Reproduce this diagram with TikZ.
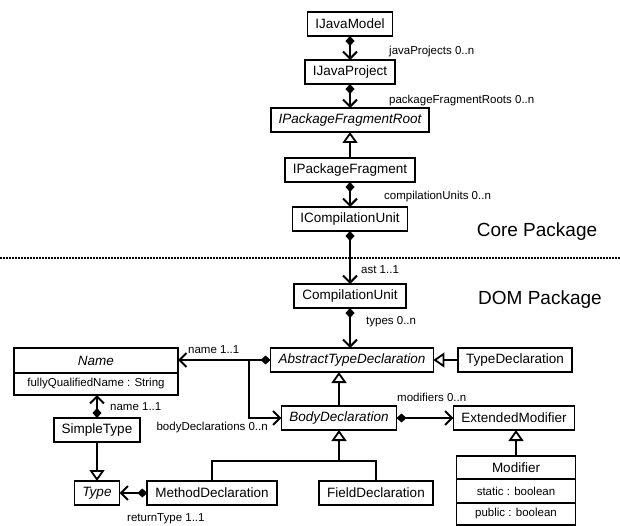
\documentclass[tikz,border=0pt]{standalone}
\usepackage{fontspec}
\setmainfont{Liberation Sans}
\usetikzlibrary{arrows.meta}
\begin{document}
\begin{tikzpicture}[x=1pt,y=-1pt,
  cls/.style={draw, line width=1.8pt, fill=white, outer sep=0pt,
    font=\fontsize{13.5}{16}\selectfont, inner xsep=8pt, inner ysep=0pt, minimum height=24pt},
  abs/.style={cls, font=\fontsize{13.5}{16}\selectfont\itshape},
  attr/.style={draw, line width=1.8pt, fill=white, outer sep=0pt,
    font=\fontsize{11.5}{14}\selectfont, inner sep=0pt},
  lbl/.style={font=\fontsize{11.5}{14}\selectfont, inner sep=0pt},
  pkg/.style={font=\fontsize{19}{23}\selectfont, inner sep=0pt},
  link/.style={line width=2pt},
  barb/.style={link, -{Straight Barb[length=7pt,width=14pt,line width=2pt]}},
  comp/.style={link, {Diamond[length=10pt,width=9pt]}-{Straight Barb[length=7pt,width=14pt,line width=2pt]}},
  gen/.style={link, -{Triangle[open,fill=white,length=11pt,width=15pt,line width=1.8pt]}},
]
\useasboundingbox (0,0) rectangle (620,526);

% Core package classes
\node[cls] (jm)  at (350,24)  {IJavaModel};
\node[cls] (jp)  at (350,72)  {IJavaProject};
\node[abs] (pfr) at (350,120) {IPackageFragmentRoot};
\node[cls] (pf)  at (350,170) {IPackageFragment};
\node[cls] (icu) at (350,219) {ICompilationUnit};

% DOM package classes
\node[cls] (cu)  at (350,296) {CompilationUnit};
\node[abs] (atd) at (352,360) {AbstractTypeDeclaration};
\node[cls] (td)  at (515,360) {TypeDeclaration};
\node[abs, minimum width=164pt, minimum height=25pt] (name) at (96,360.5) {Name};
\node[attr, minimum width=164pt, minimum height=22pt, anchor=north] (nameattr) at (name.south) {fullyQualifiedName : String};
\node[cls] (st)  at (97,430)  {SimpleType};
\node[abs] (type) at (97,493) {Type};
\node[abs] (bd)  at (339,418) {BodyDeclaration};
\node[cls] (em)  at (514,418) {ExtendedModifier};
\node[cls] (md)  at (212,493) {MethodDeclaration};
\node[cls] (fd)  at (376,493) {FieldDeclaration};
\node[cls, minimum width=119pt, minimum height=23pt] (mod) at (516,467.5) {Modifier};
\node[attr, minimum width=119pt, minimum height=24pt, anchor=north] (modst) at (mod.south) {static : boolean};
\node[attr, minimum width=119pt, minimum height=22pt, anchor=north] (modpub) at (modst.south) {public : boolean};

% package separator
\draw[line width=2pt, dash pattern=on 1.6pt off 1.4pt] (0,258) -- (620,258);
\node[pkg] (core) at (537,232) {Core Package};
\node[pkg] (dom)  at (540,300) {DOM Package};

% associations
\draw[comp] (jm.south) -- (jp.north);
\draw[comp] (jp.south) -- (pfr.north);
\draw[gen]  (pf.north) -- (pfr.south);
\draw[comp] (pf.south) -- (icu.north);
\draw[comp] (icu.south) -- (cu.north);
\draw[comp] (cu.south) -- (cu.south |- atd.north);
\draw[gen]  (td.west) -- (atd.east);
\draw[gen]  (bd.north) -- (bd.north |- atd.south);

\coordinate (jn) at (249,360);
\draw[comp] (atd.west) -- (name.east |- atd.west);
\draw[barb] (jn) |- (bd.west);
\draw[comp] (bd.east) -- (em.west);
\draw[comp] (st.north) -- (st.north |- nameattr.south);
\draw[gen]  (st.south) -- (type.north);
\draw[comp] (md.west) -- (type.east);

\coordinate (gt) at (339,461);
\draw[link] (md.north) |- (gt) -| (fd.north);
\draw[gen]  (gt) -- (bd.south);
\draw[gen]  (mod.north) -- (mod.north |- em.south);

% role labels
\node[lbl, anchor=west] (l1)  at (389,52)  {javaProjects 0..n};
\node[lbl, anchor=west] (l2)  at (389,101) {packageFragmentRoots 0..n};
\node[lbl, anchor=west] (l3)  at (384,197) {compilationUnits 0..n};
\node[lbl, anchor=west] (l4)  at (361,270) {ast 1..1};
\node[lbl, anchor=west] (l5)  at (366,322) {types 0..n};
\node[lbl, anchor=west] (l6)  at (188,350) {name 1..1};
\node[lbl, anchor=east] (l7)  at (268,428) {bodyDeclarations 0..n};
\node[lbl, anchor=west] (l8)  at (397,397) {modifiers 0..n};
\node[lbl, anchor=west] (l9)  at (110,407) {name 1..1};
\node[lbl, anchor=west] (l10) at (127,519) {returnType 1..1};
\end{tikzpicture}
\end{document}
